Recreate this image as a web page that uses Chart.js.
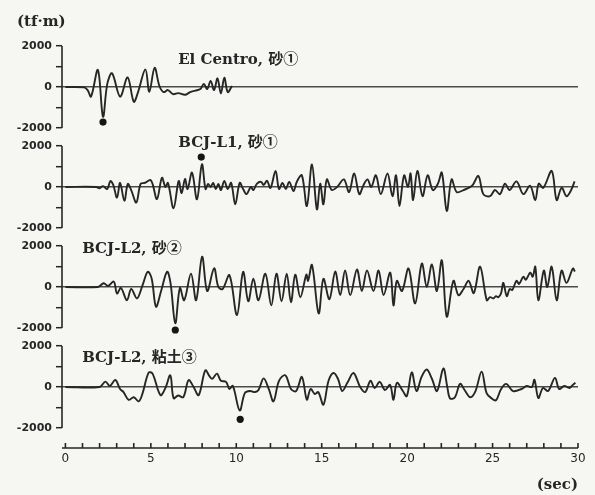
<!DOCTYPE html>
<html>
<head>
<meta charset="utf-8">
<script src="https://cdn.jsdelivr.net/npm/chart.js@4"></script>
<style>
  html, body { margin: 0; padding: 0; background: #f6f6f3; }
  #wrap { width: 595px; height: 495px; }
</style>
</head>
<body>
<div id="wrap"><canvas id="moment" width="595" height="495"></canvas></div>
<script>
// time histories of bending moment (tf·m) vs time (sec), peak points read from the record
const elCentroT = [0, 1.1, 1.3, 1.5, 1.9, 2.2, 2.45, 2.73, 3.2, 3.64, 4.0, 4.25, 4.68, 4.91, 5.22, 5.5, 5.75, 6.0, 6.3, 6.6, 7.0, 7.3, 7.6, 7.9, 8.1, 8.3, 8.5, 8.7, 8.9, 9.1, 9.3, 9.5, 9.75];
const elCentroV = [0, -20, -150, -470, 830, -1450, 150, 670, -470, 470, -720, -250, 860, -230, 940, 50, -250, -150, -350, -300, -380, -250, -180, -100, 150, -100, 300, -150, 420, -320, 450, -250, 50];

const bcjL1T = [0, 1.8, 2.0, 2.2, 2.45, 2.63, 2.8, 3.02, 3.2, 3.45, 3.65, 3.85, 4.15, 4.4, 4.65, 4.97, 5.1, 5.36, 5.65, 5.85, 6.0, 6.33, 6.63, 6.8, 7.0, 7.15, 7.41, 7.7, 7.99, 8.2, 8.35, 8.5, 8.65, 8.8, 8.95, 9.1, 9.3, 9.5, 9.7, 9.94, 10.2, 10.4, 10.6, 10.85, 11.0, 11.2, 11.45, 11.6, 11.8, 12.0, 12.3, 12.5, 12.7, 12.9, 13.1, 13.35, 13.55, 13.84, 14.13, 14.43, 14.72, 14.91, 15.1, 15.3, 15.59, 15.9, 16.3, 16.6, 16.9, 17.2, 17.45, 17.68, 17.9, 18.17, 18.46, 18.85, 19.14, 19.35, 19.55, 19.82, 20.05, 20.2, 20.35, 20.6, 20.9, 21.2, 21.5, 21.8, 22.03, 22.32, 22.6, 22.9, 23.3, 23.8, 24.17, 24.46, 24.85, 25.14, 25.43, 25.73, 26.0, 26.4, 26.8, 27.2, 27.5, 27.7, 27.97, 28.46, 28.75, 29.04, 29.33, 29.6, 29.8];
const bcjL1V = [0, 0, -60, 40, -100, 290, 100, -520, 200, -680, 150, -150, -760, 150, 200, 340, 150, -590, 450, 0, 200, -1040, 290, -300, 390, -100, 700, -600, 1110, -100, 150, 0, 200, -100, 150, -150, 300, -100, 200, -850, 200, -100, -350, 0, -150, 150, 250, 100, 300, -50, 780, -100, 200, -100, 250, -200, 270, 570, -930, 1100, -1090, 160, -850, 370, -150, 0, 370, -250, 660, -350, 100, 370, 0, 570, -350, 660, -450, 570, -930, 570, 0, 660, -640, 780, -450, 570, -150, 160, 700, -1170, 370, -250, -150, 60, 540, -350, -450, -150, -350, 160, -150, 270, -350, 60, -640, 160, -40, 780, -640, -40, -450, -150, 270];

const bcjL2SandT = [0, 1.9, 2.24, 2.5, 2.83, 3.02, 3.25, 3.6, 3.85, 4.19, 4.5, 4.82, 5.05, 5.3, 5.6, 5.95, 6.15, 6.43, 6.7, 6.95, 7.35, 7.65, 8.0, 8.3, 8.7, 8.95, 9.2, 9.6, 10.04, 10.4, 10.7, 11.0, 11.3, 11.7, 12.05, 12.35, 12.65, 12.95, 13.2, 13.45, 13.75, 14.1, 14.2, 14.43, 14.82, 15.1, 15.45, 15.79, 16.08, 16.37, 16.67, 17.06, 17.35, 17.65, 18.03, 18.33, 18.62, 19.01, 19.2, 19.4, 19.7, 20.08, 20.47, 20.86, 21.15, 21.45, 21.74, 22.03, 22.32, 22.71, 23.0, 23.3, 23.6, 23.9, 24.27, 24.66, 24.85, 25.05, 25.2, 25.34, 25.5, 25.63, 25.83, 26.0, 26.15, 26.4, 26.55, 26.8, 26.95, 27.2, 27.35, 27.5, 27.68, 28.0, 28.2, 28.46, 28.75, 29.04, 29.33, 29.7, 29.82];
const bcjL2SandV = [0, 0, 180, 50, 260, -320, -50, -650, -100, -560, 50, 740, 400, -960, -200, 740, 200, -1770, -50, -650, 650, -650, 1480, -200, 910, 0, -100, 570, -1370, 740, -700, 400, -650, 650, -900, 650, -700, 650, -750, 600, -500, 600, 300, 1070, -1290, 400, -600, 750, -400, 800, -400, 850, -200, 800, -200, 800, -400, 700, -900, 300, -200, 900, -800, 1140, 0, 1100, -200, 1300, -1450, 300, -400, -100, 300, -300, 990, -650, -500, -560, -450, -500, -300, 200, -450, -100, -150, 300, 150, 500, 350, 700, 500, 990, -650, 800, 0, 990, -650, 800, 200, 900, 750];

const bcjL2ClayT = [0, 2.0, 2.34, 2.6, 2.92, 3.2, 3.4, 3.7, 4.0, 4.29, 4.5, 4.87, 5.1, 5.56, 5.85, 6.14, 6.33, 6.6, 6.9, 7.21, 7.5, 7.8, 8.19, 8.45, 8.6, 8.87, 9.1, 9.4, 9.6, 9.8, 10.2, 10.5, 10.8, 11.1, 11.3, 11.6, 11.9, 12.18, 12.5, 12.87, 13.2, 13.5, 13.84, 14.13, 14.35, 14.6, 14.8, 15.1, 15.4, 15.69, 15.95, 16.2, 16.5, 16.86, 17.25, 17.55, 17.85, 18.1, 18.4, 18.7, 19.0, 19.2, 19.4, 19.75, 19.98, 20.27, 20.55, 20.85, 21.15, 21.45, 21.75, 22.12, 22.35, 22.51, 22.8, 23.1, 23.4, 23.7, 24.0, 24.36, 24.65, 24.95, 25.2, 25.5, 25.8, 26.2, 26.7, 27.0, 27.3, 27.45, 27.68, 27.95, 28.25, 28.65, 28.9, 29.2, 29.5, 29.7, 29.85];
const bcjL2ClayV = [0, 0, 260, 50, 340, -100, -250, -630, -500, -700, -350, 700, 650, -400, -50, 570, -550, -420, -500, 330, 0, -400, 810, 500, 400, 650, 300, 250, -100, 50, -1150, -300, -200, -250, -150, 420, -100, -700, 300, 570, -100, -200, 490, -620, -100, -350, -250, -870, 300, 680, 400, -200, 200, 680, 0, -250, 300, -50, 250, -150, 100, -630, 200, -200, -450, 710, -200, 500, 850, 400, -200, 900, 0, -560, -500, 150, -200, -500, -200, 750, -300, -560, -650, -100, 150, -200, -100, 50, 0, 350, -540, -50, -200, 440, -100, 50, -50, 100, 200];

const peakT = [2.2, 7.95, 6.43, 10.23];
const peakV = [-1710, 1460, -2100, -1580];

const panelNames = ['El Centro, 砂①', 'BCJ-L1, 砂①', 'BCJ-L2, 砂②', 'BCJ-L2, 粘土③'];
const yTickValues = [-2000, -1000, 0, 1000, 2000];
const yTickLabels = [-2000, 0, 2000];
const secTicks = [0, 1, 2, 3, 4, 5, 6, 7, 8, 9, 10, 11, 12, 13, 14, 15, 16, 17, 18, 19, 20, 21, 22, 23, 24, 25, 26, 27, 28, 29, 30];
const secLabels = [0, 5, 10, 15, 20, 25, 30];

const ink = '#262626';
const serif = '"DejaVu Serif", "Noto Sans CJK JP", serif';
const panels = ['p1', 'p2', 'p3', 'p4'];
const series = [[elCentroT, elCentroV], [bcjL1T, bcjL1V], [bcjL2SandT, bcjL2SandV], [bcjL2ClayT, bcjL2ClayV]];

// where each panel's name sits, in (sec, tf·m) of that panel
const nameAt = [[6.6, 1320], [6.6, 2150], [0.98, 1850], [0.98, 1415]];

const datasets = [];
series.forEach(([t, v], i) => {
  datasets.push({
    data: t.map((x, k) => ({x, y: v[k]})),
    yAxisID: panels[i],
    borderColor: ink,
    borderWidth: 1.9,
    pointRadius: 0,
    tension: 0.35,
    fill: false
  });
});
peakT.forEach((t, i) => {
  datasets.push({
    data: [{x: t, y: peakV[i]}],
    yAxisID: panels[i],
    showLine: false,
    pointRadius: 3.6,
    pointBackgroundColor: '#151515',
    pointBorderWidth: 0
  });
});

function panelAxis(min, max) {
  return {
    type: 'linear',
    position: 'left',
    stack: 'panels',
    stackWeight: max - min,
    min, max,
    afterBuildTicks: s => { s.ticks = yTickValues.map(value => ({value})); },
    afterFit: s => { s.width = 62; },
    ticks: {
      autoSkip: false,
      padding: 4,
      color: ink,
      font: {family: 'DejaVu Sans', size: 11, weight: 'bold'},
      callback: v => yTickLabels.includes(v) ? String(v) : ''
    },
    grid: {
      drawOnChartArea: true,
      drawTicks: true,
      tickLength: 6,
      tickColor: ink,
      tickWidth: 1.5,
      lineWidth: 1.4,
      color: c => (c.tick && c.tick.value === 0) ? '#4a4a4a' : 'rgba(0,0,0,0)'
    },
    border: {display: false}
  };
}

const decor = {
  id: 'decor',
  afterDraw(chart) {
    const ctx = chart.ctx;
    const area = chart.chartArea;
    const xs = chart.scales.x;
    ctx.save();
    ctx.strokeStyle = ink;
    ctx.lineWidth = 1.6;
    // left axis line of each panel, from +2000 down to -2000
    panels.forEach(id => {
      const s = chart.scales[id];
      ctx.beginPath();
      ctx.moveTo(area.left, s.getPixelForValue(2000));
      ctx.lineTo(area.left, s.getPixelForValue(-2000));
      ctx.stroke();
    });
    // time axis, ticks point up
    ctx.beginPath();
    ctx.moveTo(area.left, area.bottom);
    ctx.lineTo(area.right, area.bottom);
    secTicks.forEach(t => {
      const x = xs.getPixelForValue(t);
      ctx.moveTo(x, area.bottom);
      ctx.lineTo(x, area.bottom - 5);
    });
    ctx.stroke();

    ctx.fillStyle = ink;
    ctx.textBaseline = 'middle';
    ctx.textAlign = 'left';
    ctx.font = 'bold 15px ' + serif;
    panelNames.forEach((name, i) => {
      const s = chart.scales[panels[i]];
      ctx.fillText(name, xs.getPixelForValue(nameAt[i][0]), s.getPixelForValue(nameAt[i][1]));
    });
    // unit of the moment axis
    ctx.fillText('(tf·m)', 17, chart.scales.p1.getPixelForValue(2000) - 24);
    ctx.restore();
  }
};

new Chart(document.getElementById('moment'), {
  type: 'line',
  data: {datasets},
  options: {
    responsive: false,
    animation: false,
    events: [],
    layout: {padding: {top: 37, right: 17, bottom: 0, left: 0}},
    plugins: {legend: {display: false}, tooltip: {enabled: false}},
    scales: {
      x: {
        type: 'linear',
        position: 'bottom',
        min: -0.2,
        max: 30,
        afterBuildTicks: s => { s.ticks = secLabels.map(value => ({value})); },
        afterFit: s => { s.height = 47; },
        ticks: {
          autoSkip: false,
          maxRotation: 0,
          padding: 4,
          color: ink,
          font: {family: 'DejaVu Sans', size: 12}
        },
        grid: {display: false, drawTicks: false},
        border: {display: false},
        title: {
          display: true,
          text: '(sec)',
          align: 'end',
          color: ink,
          padding: {top: 0, bottom: 1},
          font: {family: serif, size: 15, weight: 'bold'}
        }
      },
      // stacked panels are laid out bottom-up in declaration order
      p4: panelAxis(-2980, 2440),
      p3: panelAxis(-2440, 2440),
      p2: panelAxis(-2440, 2440),
      p1: panelAxis(-2440, 2440)
    }
  },
  plugins: [decor]
});
</script>
</body>
</html>
